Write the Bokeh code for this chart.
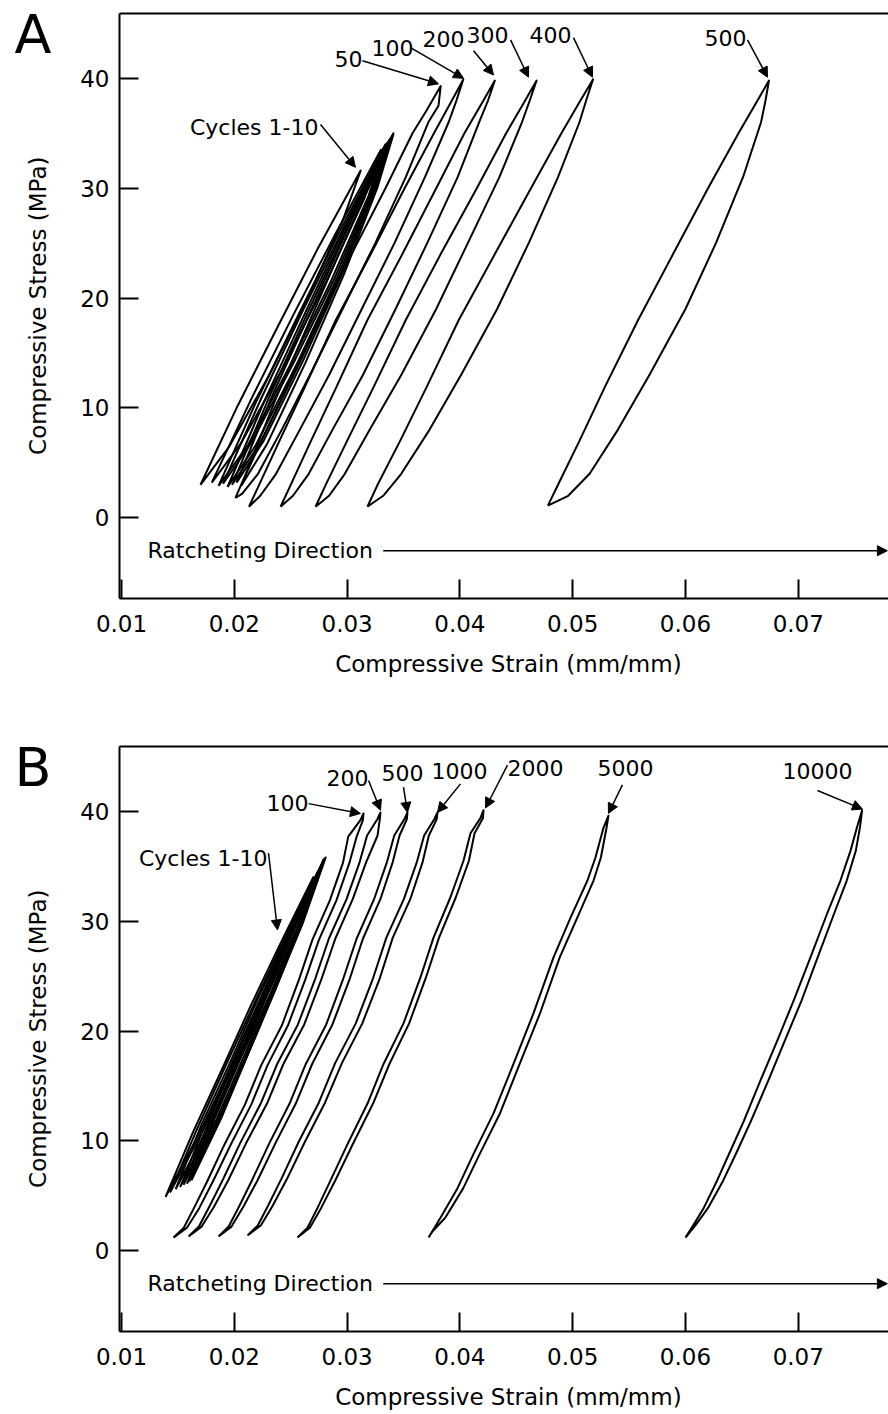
import math
from bokeh.plotting import figure
from bokeh.layouts import column
from bokeh.models import (Range1d, FixedTicker, PrintfTickFormatter, LinearAxis,
                          Arrow, NormalHead)
from bokeh.core.properties import value
from bokeh.embed import file_html
from bokeh.resources import INLINE

FONT = "DejaVu Sans"

# ---------------- axes ----------------
x_ticks = [0.01, 0.02, 0.03, 0.04, 0.05, 0.06, 0.07]
y_ticks = [0, 10, 20, 30, 40]
x_label = "Compressive Strain (mm/mm)"
y_label = "Compressive Stress (MPa)"
x_start, x_end = 0.00982, 0.0780
y_start, y_end = -7.35, 45.9

# ---------------- Panel A: cycles 1-10 ----------------
a_c1_strain = [0.0170, 0.0203, 0.0238, 0.0274, 0.0312, 0.0297, 0.0266, 0.0231, 0.0195, 0.0170]
a_c1_stress = [3.0, 10.2, 17.3, 24.5, 31.6, 27.3, 20.2, 13.0, 6.4, 3.0]
a_c2_strain = [0.0180, 0.0215, 0.0252, 0.0290, 0.0330, 0.0315, 0.0281, 0.0244, 0.0206, 0.0180]
a_c2_stress = [3.2, 10.8, 18.4, 25.9, 33.5, 29.0, 21.4, 13.8, 6.8, 3.2]
a_c3_strain = [0.0186, 0.0220, 0.0257, 0.0294, 0.0334, 0.0319, 0.0286, 0.0249, 0.0212, 0.0186]
a_c3_stress = [2.9, 10.7, 18.5, 26.2, 34.0, 29.3, 21.6, 13.8, 6.6, 2.9]
a_c4_strain = [0.0190, 0.0224, 0.0260, 0.0297, 0.0336, 0.0321, 0.0289, 0.0252, 0.0215, 0.0190]
a_c4_stress = [3.1, 10.9, 18.7, 26.4, 34.2, 29.5, 21.8, 14.0, 6.8, 3.1]
a_c5_strain = [0.0194, 0.0227, 0.0263, 0.0299, 0.0338, 0.0323, 0.0291, 0.0255, 0.0219, 0.0194]
a_c5_stress = [2.8, 10.7, 18.7, 26.6, 34.5, 29.7, 21.8, 13.9, 6.6, 2.8]
a_c6_strain = [0.0198, 0.0231, 0.0266, 0.0302, 0.0340, 0.0325, 0.0294, 0.0258, 0.0223, 0.0198]
a_c6_stress = [3.0, 11.0, 18.9, 26.9, 34.8, 30.0, 22.1, 14.1, 6.8, 3.0]
a_c7_strain = [0.0202, 0.0234, 0.0269, 0.0304, 0.0341, 0.0326, 0.0296, 0.0261, 0.0226, 0.0202]
a_c7_stress = [3.2, 11.2, 19.1, 27.1, 35.0, 30.2, 22.3, 14.3, 7.0, 3.2]
a_c8_strain = [0.0206, 0.0237, 0.0271, 0.0305, 0.0341, 0.0327, 0.0297, 0.0263, 0.0229, 0.0206]
a_c8_stress = [2.9, 10.9, 18.9, 26.9, 34.9, 30.1, 22.1, 14.1, 6.7, 2.9]

# ---------------- Panel A: later cycles ----------------
a_50_strain = [0.0201, 0.0206, 0.0224, 0.0247, 0.0274, 0.0304, 0.0334, 0.0358, 0.0370, 0.0383,
               0.0381, 0.0372, 0.0352, 0.0325, 0.0296, 0.0267, 0.0242, 0.0221, 0.0207, 0.0201]
a_50_stress = [1.8, 3.0, 7.0, 12.0, 18.0, 24.0, 30.0, 35.0, 37.0, 39.3,
               37.5, 36.0, 31.0, 25.0, 19.0, 13.0, 8.0, 4.0, 2.2, 1.8]
a_100_strain = [0.0213, 0.0222, 0.0240, 0.0263, 0.0290, 0.0321, 0.0351, 0.0377, 0.0393, 0.0403,
                0.0397, 0.0390, 0.0369, 0.0342, 0.0313, 0.0284, 0.0258, 0.0237, 0.0223, 0.0213]
a_100_stress = [1.0, 3, 7, 12, 18, 24, 30, 35, 38, 39.9, 38, 36, 31, 25, 19, 13, 8, 4, 2, 1.0]
a_200_strain = [0.0241, 0.0250, 0.0268, 0.0291, 0.0318, 0.0349, 0.0379, 0.0404, 0.0421, 0.0431,
                0.0425, 0.0417, 0.0398, 0.0371, 0.0343, 0.0314, 0.0287, 0.0266, 0.0252, 0.0241]
a_200_stress = [1.0, 3, 7, 12, 18, 24, 30, 35, 38, 39.8, 38, 36, 31, 25, 19, 13, 8, 4, 2, 1.0]
a_300_strain = [0.0272, 0.0281, 0.0300, 0.0324, 0.0352, 0.0383, 0.0415, 0.0441, 0.0458, 0.0468,
                0.0462, 0.0455, 0.0435, 0.0407, 0.0379, 0.0348, 0.0320, 0.0298, 0.0284, 0.0272]
a_300_stress = [1.0, 3, 7, 12, 18, 24, 30, 35, 38, 39.8, 38, 36, 31, 25, 19, 13, 8, 4, 2, 1.0]
a_400_strain = [0.0318, 0.0327, 0.0347, 0.0371, 0.0399, 0.0431, 0.0463, 0.0490, 0.0507, 0.0518,
                0.0512, 0.0506, 0.0487, 0.0461, 0.0433, 0.0401, 0.0373, 0.0348, 0.0332, 0.0318]
a_400_stress = [1.0, 3, 7, 12, 18, 24, 30, 35, 38, 39.9, 38, 36, 31, 25, 19, 13, 8, 4, 2, 1.0]
a_500_strain = [0.0478, 0.0487, 0.0506, 0.0529, 0.0558, 0.0589, 0.0620, 0.0647, 0.0664, 0.0674,
                0.0671, 0.0667, 0.0651, 0.0627, 0.0600, 0.0568, 0.0540, 0.0515, 0.0496, 0.0478]
a_500_stress = [1.1, 3, 7, 12, 18, 24, 30, 35, 38, 39.8, 38, 36, 31, 25, 19, 13, 8, 4, 2, 1.1]

a_labels = ["50", "100", "200", "300", "400", "500"]
a_label_strain = [0.03012, 0.03402, 0.03855, 0.04245, 0.04803, 0.06355]
a_label_stress = [41.8, 42.8, 43.6, 43.9, 43.9, 43.7]
a_arrow_x0 = [0.03136, 0.03562, 0.04121, 0.04449, 0.05007, 0.06550]
a_arrow_y0 = [41.6, 42.8, 42.5, 43.5, 43.7, 43.5]
a_arrow_x1 = [0.03810, 0.04032, 0.04298, 0.04608, 0.05175, 0.06727]
a_arrow_y1 = [39.5, 40.0, 40.3, 40.1, 40.1, 40.1]
a_cycles_pos = [0.02746, 35.5]
a_cycles_arrow = [0.02764, 35.8, 0.03074, 31.9]

# ---------------- Panel B: cycles 1-10 ----------------
b_k1_strain = [0.0139, 0.0163, 0.0189, 0.0215, 0.0242, 0.0270, 0.0247, 0.0222, 0.0196, 0.0169, 0.0139]
b_k1_stress = [4.9, 10.7, 16.5, 22.4, 28.2, 34.0, 28.2, 22.4, 16.5, 10.7, 4.9]
b_k2_strain = [0.0143, 0.0167, 0.0193, 0.0219, 0.0246, 0.0274, 0.0251, 0.0226, 0.0200, 0.0173, 0.0143]
b_k2_stress = [5.3, 11.1, 17.0, 22.8, 28.7, 34.5, 28.7, 22.8, 17.0, 11.1, 5.3]
b_k3_strain = [0.0148, 0.0171, 0.0197, 0.0222, 0.0249, 0.0276, 0.0254, 0.0229, 0.0204, 0.0178, 0.0148]
b_k3_stress = [5.6, 11.5, 17.3, 23.2, 29.0, 34.9, 29.0, 23.2, 17.3, 11.5, 5.6]
b_k4_strain = [0.0152, 0.0175, 0.0200, 0.0225, 0.0251, 0.0278, 0.0256, 0.0232, 0.0206, 0.0181, 0.0152]
b_k4_stress = [5.8, 11.7, 17.6, 23.4, 29.3, 35.2, 29.3, 23.4, 17.6, 11.7, 5.8]
b_k5_strain = [0.0155, 0.0178, 0.0202, 0.0227, 0.0252, 0.0279, 0.0258, 0.0234, 0.0209, 0.0184, 0.0155]
b_k5_stress = [6.0, 11.9, 17.8, 23.7, 29.6, 35.5, 29.6, 23.7, 17.8, 11.9, 6.0]
b_k6_strain = [0.0158, 0.0180, 0.0205, 0.0229, 0.0254, 0.0280, 0.0260, 0.0236, 0.0211, 0.0186, 0.0158]
b_k6_stress = [6.1, 12.0, 17.9, 23.9, 29.8, 35.7, 29.8, 23.9, 17.9, 12.0, 6.1]
b_k7_strain = [0.0160, 0.0182, 0.0206, 0.0230, 0.0255, 0.0281, 0.0261, 0.0237, 0.0213, 0.0188, 0.0160]
b_k7_stress = [6.3, 12.2, 18.1, 24.0, 29.9, 35.8, 29.9, 24.0, 18.1, 12.2, 6.3]
b_k8_strain = [0.0162, 0.0183, 0.0207, 0.0230, 0.0254, 0.0279, 0.0260, 0.0237, 0.0213, 0.0189, 0.0162]
b_k8_stress = [6.4, 12.2, 18.1, 23.9, 29.8, 35.6, 29.8, 23.9, 18.1, 12.2, 6.4]

# ---------------- Panel B: later cycles ----------------
b_100_strain = [0.01461, 0.01552, 0.01643, 0.01759, 0.01914, 0.02094, 0.02239, 0.02421, 0.02574, 0.02692,
                0.02847, 0.02963, 0.03010, 0.03118, 0.03145, 0.03140, 0.03085, 0.03020, 0.02905, 0.02750,
                0.02630, 0.02475, 0.02295, 0.02150, 0.01970, 0.01810, 0.01690, 0.01580, 0.01461]
b_100_stress = [1.2, 2.1, 3.9, 6.3, 9.7, 13.3, 16.9, 20.5, 24.7, 28.3, 31.9, 35.3, 37.7, 39.2, 39.8,
                39.2, 37.7, 35.3, 31.9, 28.3, 24.7, 20.5, 16.9, 13.3, 9.7, 6.3, 3.9, 2.1, 1.2]
b_200_strain = [0.01594, 0.01686, 0.01778, 0.01895, 0.02052, 0.02234, 0.02380, 0.02564, 0.02719, 0.02838,
                0.02995, 0.03112, 0.03177, 0.03269, 0.03296, 0.03290, 0.03270, 0.03170, 0.03050, 0.02895,
                0.02775, 0.02620, 0.02435, 0.02290, 0.02105, 0.01945, 0.01820, 0.01710, 0.01594]
b_200_stress = [1.3, 2.2, 4.0, 6.4, 9.8, 13.4, 17.0, 20.6, 24.8, 28.4, 32.0, 35.4, 37.8, 39.3, 39.9,
                39.3, 37.8, 35.4, 32.0, 28.4, 24.8, 20.6, 17.0, 13.4, 9.8, 6.4, 4.0, 2.2, 1.3]
b_500_strain = [0.01860, 0.01950, 0.02041, 0.02156, 0.02311, 0.02490, 0.02634, 0.02815, 0.02967, 0.03084,
                0.03239, 0.03354, 0.03418, 0.03508, 0.03535, 0.03530, 0.03465, 0.03405, 0.03295, 0.03140,
                0.03025, 0.02870, 0.02690, 0.02545, 0.02365, 0.02205, 0.02080, 0.01975, 0.01860]
b_500_stress = [1.3, 2.2, 4.0, 6.4, 9.8, 13.4, 17.0, 20.6, 24.8, 28.4, 32.0, 35.4, 37.8, 39.3, 39.9,
                39.3, 37.8, 35.4, 32.0, 28.4, 24.8, 20.6, 17.0, 13.4, 9.8, 6.4, 4.0, 2.2, 1.3]
b_1000_strain = [0.02117, 0.02208, 0.02299, 0.02415, 0.02570, 0.02750, 0.02895, 0.03077, 0.03230, 0.03348,
                 0.03503, 0.03619, 0.03683, 0.03774, 0.03801, 0.03795, 0.03725, 0.03670, 0.03560, 0.03405,
                 0.03290, 0.03135, 0.02955, 0.02805, 0.02625, 0.02465, 0.02340, 0.02235, 0.02117]
b_1000_stress = [1.4, 2.3, 4.1, 6.5, 9.9, 13.5, 17.1, 20.7, 24.8, 28.5, 32.0, 35.4, 37.8, 39.3, 39.9,
                 39.3, 37.8, 35.4, 32.0, 28.5, 24.8, 20.7, 17.1, 13.5, 9.9, 6.5, 4.1, 2.3, 1.4]
b_2000_strain = [0.02560, 0.02649, 0.02738, 0.02853, 0.03004, 0.03181, 0.03323, 0.03500, 0.03651, 0.03766,
                 0.03917, 0.04032, 0.04094, 0.04183, 0.04209, 0.04205, 0.04130, 0.04080, 0.03965, 0.03815,
                 0.03700, 0.03550, 0.03375, 0.03230, 0.03050, 0.02895, 0.02770, 0.02670, 0.02560]
b_2000_stress = [1.2, 2.1, 3.9, 6.4, 9.7, 13.4, 17.0, 20.7, 24.9, 28.5, 32.2, 35.5, 38.0, 39.4, 40.1,
                 39.4, 38.0, 35.5, 32.2, 28.5, 24.9, 20.7, 17.0, 13.4, 9.7, 6.4, 3.9, 2.1, 1.2]
b_5000_strain = [0.03722, 0.03828, 0.03979, 0.04120, 0.04298, 0.04475, 0.04652, 0.04830, 0.04980, 0.05131,
                 0.05202, 0.05273, 0.05317, 0.05300, 0.05250, 0.05185, 0.05040, 0.04885, 0.04710, 0.04530,
                 0.04355, 0.04175, 0.04030, 0.03870, 0.03760, 0.03722]
b_5000_stress = [1.2, 3.0, 5.7, 8.8, 12.5, 17.0, 21.6, 26.7, 30.3, 33.7, 35.8, 38.5, 39.6,
                 38.5, 35.8, 33.7, 30.3, 26.7, 21.6, 17.0, 12.5, 8.8, 5.7, 3.0, 1.8, 1.2]
b_10000_strain = [0.06000, 0.06074, 0.06162, 0.06281, 0.06399, 0.06517, 0.06665, 0.06813, 0.06960, 0.07108,
                  0.07256, 0.07374, 0.07463, 0.07522, 0.07566, 0.07548, 0.07510, 0.07430, 0.07318, 0.07172,
                  0.07030, 0.06880, 0.06735, 0.06580, 0.06460, 0.06335, 0.06200, 0.06095, 0.06000]
b_10000_stress = [1.2, 2.4, 3.9, 6.4, 9.1, 11.8, 15.5, 19.1, 22.8, 26.7, 30.7, 33.7, 36.4, 38.6, 40.1,
                  38.6, 36.4, 33.7, 30.7, 26.7, 22.8, 19.1, 15.5, 11.8, 9.1, 6.4, 3.9, 2.4, 1.2]

b_labels = ["100", "200", "500", "1000", "2000", "5000", "10000"]
b_label_strain = [0.02472, 0.03004, 0.03491, 0.03996, 0.04670, 0.05468, 0.07170]
b_label_stress = [40.8, 43.0, 43.5, 43.7, 43.9, 43.9, 43.7]
b_arrow_x0 = [0.02658, 0.03190, 0.03500, 0.04005, 0.04422, 0.05441, 0.07170]
b_arrow_y0 = [40.7, 42.8, 42.2, 42.5, 44.2, 42.4, 41.9]
b_arrow_x1 = [0.03118, 0.03296, 0.03535, 0.03801, 0.04227, 0.05317, 0.07569]
b_arrow_y1 = [39.8, 40.1, 39.9, 39.9, 40.3, 39.8, 40.2]
b_cycles_pos = [0.02294, 35.7]
b_cycles_arrow = [0.02303, 36.2, 0.02383, 29.2]

ratchet_text = "Ratcheting Direction"
ratchet_text_pos = [0.0123, -3.0]
ratchet_arrow = [0.0332, 0.0779, -3.0]
panel_letter_pos = [0.00215, 44.0]
x_label_pos = [0.0443, -13.3]
y_label_pos = [0.00255, 19.3]

a_loops = [(a_c1_strain, a_c1_stress), (a_c2_strain, a_c2_stress), (a_c3_strain, a_c3_stress),
           (a_c4_strain, a_c4_stress), (a_c5_strain, a_c5_stress), (a_c6_strain, a_c6_stress),
           (a_c7_strain, a_c7_stress), (a_c8_strain, a_c8_stress),
           (a_50_strain, a_50_stress), (a_100_strain, a_100_stress), (a_200_strain, a_200_stress),
           (a_300_strain, a_300_stress), (a_400_strain, a_400_stress), (a_500_strain, a_500_stress)]
b_loops = [(b_k1_strain, b_k1_stress), (b_k2_strain, b_k2_stress), (b_k3_strain, b_k3_stress),
           (b_k4_strain, b_k4_stress), (b_k5_strain, b_k5_stress), (b_k6_strain, b_k6_stress),
           (b_k7_strain, b_k7_stress), (b_k8_strain, b_k8_stress),
           (b_100_strain, b_100_stress), (b_200_strain, b_200_stress), (b_500_strain, b_500_stress),
           (b_1000_strain, b_1000_stress), (b_2000_strain, b_2000_stress), (b_5000_strain, b_5000_stress),
           (b_10000_strain, b_10000_stress)]

# Layout: the frame spans the whole canvas; axes are pinned to the plot box edges.
FIG_W, FIG_H = 888, 707
BOX_LEFT, BOX_W, BOX_H = 119, 769, 585
PX_X = BOX_W / (x_end - x_start)
PX_Y = BOX_H / (y_end - y_start)
frame_x_start = x_start - BOX_LEFT / PX_X


def head():
    return NormalHead(size=10, fill_color="black", line_color="black", line_width=1)


def make_panel(letter, loops, labels, lx, ly, ax0, ay0, ax1, ay1, cyc_pos, cyc_arrow, box_top):
    box_bottom = box_top + BOX_H
    fy_end = y_end + box_top / PX_Y
    fy_start = y_start - (FIG_H - box_bottom) / PX_Y
    p = figure(width=FIG_W, height=FIG_H, x_range=Range1d(frame_x_start, x_end),
               y_range=Range1d(fy_start, fy_end),
               output_backend="svg", toolbar_location=None,
               min_border_left=0, min_border_right=0, min_border_top=0, min_border_bottom=0)
    p.outline_line_color = None
    p.grid.visible = False
    p.background_fill_color = "white"
    p.border_fill_color = "white"

    for ax in (p.xaxis[0], p.yaxis[0]):
        ax.axis_line_width = 2
        ax.axis_line_color = "black"
        ax.major_tick_line_width = 2
        ax.major_tick_in = 19
        ax.major_tick_out = 0
        ax.minor_tick_line_color = None
        ax.major_label_text_font = FONT
        ax.major_label_text_font_size = "23px"
        ax.major_label_text_color = "black"
    p.xaxis[0].ticker = FixedTicker(ticks=x_ticks)
    p.xaxis[0].formatter = PrintfTickFormatter(format="%.2f")
    p.xaxis[0].bounds = (x_start, x_end)
    p.xaxis[0].fixed_location = y_start
    p.xaxis[0].major_label_standoff = 16
    p.yaxis[0].ticker = FixedTicker(ticks=y_ticks)
    p.yaxis[0].formatter = PrintfTickFormatter(format="%d")
    p.yaxis[0].bounds = (y_start, y_end)
    p.yaxis[0].fixed_location = x_start
    p.yaxis[0].major_label_standoff = 10

    top_axis = LinearAxis(ticker=FixedTicker(ticks=[]), axis_line_width=2, axis_line_color="black",
                          major_tick_line_color=None, minor_tick_line_color=None, bounds=(x_start, x_end),
                          major_label_text_font_size="0px", major_label_standoff=0,
                          fixed_location=y_end)
    p.add_layout(top_axis, "above")

    # axis titles
    p.text(x=[x_label_pos[0]], y=[x_label_pos[1]], text=[x_label], text_font=value(FONT),
           text_font_size="23px", text_align="center", text_baseline="middle", text_color="black")
    p.text(x=[y_label_pos[0]], y=[y_label_pos[1]], text=[y_label], text_font=value(FONT),
           text_font_size="23px", text_align="center", text_baseline="middle", text_color="black",
           angle=math.pi / 2)

    p.multi_line(xs=[l[0] for l in loops], ys=[l[1] for l in loops], line_color="black",
                 line_width=2, line_join="round")

    p.text(x=lx, y=ly, text=labels, text_font=value(FONT), text_font_size="22px",
           text_align="center", text_baseline="middle", text_color="black")
    for x0, y0, x1, y1 in zip(ax0, ay0, ax1, ay1):
        p.add_layout(Arrow(x_start=x0, y_start=y0, x_end=x1, y_end=y1, line_width=1.5, end=head()))

    p.text(x=[cyc_pos[0]], y=[cyc_pos[1]], text=["Cycles 1-10"], text_font=value(FONT),
           text_font_size="22px", text_align="right", text_baseline="middle", text_color="black")
    p.add_layout(Arrow(x_start=cyc_arrow[0], y_start=cyc_arrow[1], x_end=cyc_arrow[2], y_end=cyc_arrow[3],
                       line_width=1.5, end=head()))

    p.text(x=[ratchet_text_pos[0]], y=[ratchet_text_pos[1]], text=[ratchet_text], text_font=value(FONT),
           text_font_size="22px", text_align="left", text_baseline="middle", text_color="black")
    p.add_layout(Arrow(x_start=ratchet_arrow[0], y_start=ratchet_arrow[2], x_end=ratchet_arrow[1],
                       y_end=ratchet_arrow[2], line_width=1.5, end=head()))

    p.text(x=[panel_letter_pos[0]], y=[panel_letter_pos[1]], text=[letter], text_font=value(FONT),
           text_font_size="54px", text_align="center", text_baseline="middle", text_color="black")
    return p


pA = make_panel("A", a_loops, a_labels, a_label_strain, a_label_stress,
                a_arrow_x0, a_arrow_y0, a_arrow_x1, a_arrow_y1, a_cycles_pos, a_cycles_arrow, 13)
pB = make_panel("B", b_loops, b_labels, b_label_strain, b_label_stress,
                b_arrow_x0, b_arrow_y0, b_arrow_x1, b_arrow_y1, b_cycles_pos, b_cycles_arrow, 39)

layout = column(pA, pB, spacing=0)
open("out.html", "w").write(file_html(layout, INLINE))
